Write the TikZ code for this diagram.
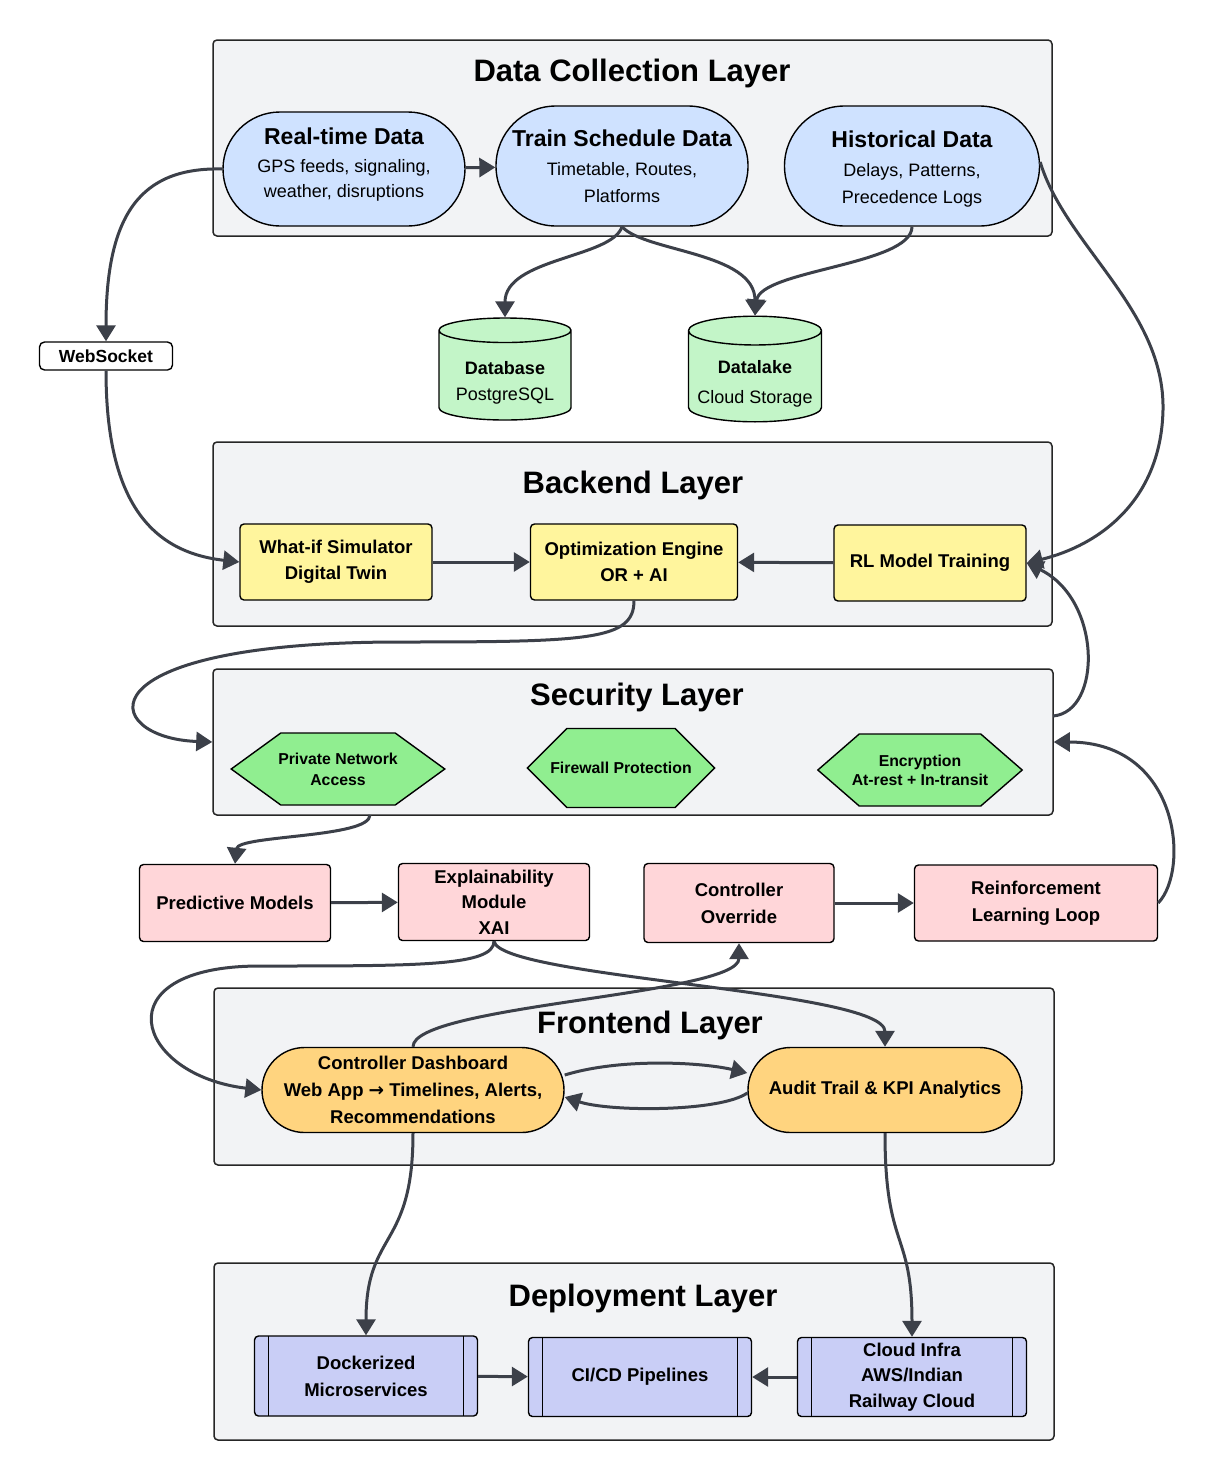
\documentclass[tikz,border=0pt]{standalone}
\usepackage{fontspec}
\setmainfont{Liberation Sans}
\newfontfamily\arrowfont{DejaVu Sans}
\usetikzlibrary{shapes.geometric,shapes.symbols,shapes.misc,arrows.meta}

\definecolor{layerfill}{HTML}{F2F3F5}
\definecolor{linec}{HTML}{3C4049}
\definecolor{srcfill}{HTML}{CFE2FF}
\definecolor{storefill}{HTML}{C3F5C8}
\definecolor{backfill}{HTML}{FFF59D}
\definecolor{secfill}{HTML}{90EE90}
\definecolor{mlfill}{HTML}{FFD6D9}
\definecolor{frontfill}{HTML}{FFD47F}
\definecolor{depfill}{HTML}{C9CEF6}

\begin{document}
\begin{tikzpicture}[x=1pt, y=-1pt,
    layer/.style={draw=black!85, fill=layerfill, line width=1.5pt, rounded corners=4pt, inner sep=0pt},
    ltitle/.style={font=\fontsize{31}{36}\selectfont\bfseries},
    src/.style={rounded rectangle, draw=black, fill=srcfill, line width=1.4pt, align=center, inner sep=0pt, font=\fontsize{18}{27}\selectfont},
    store/.style={cylinder, shape border rotate=90, aspect=0.25, anchor=shape center, draw=black, fill=storefill, line width=1.4pt, align=center, inner sep=0pt, font=\fontsize{18}{26}\selectfont},
    boxn/.style={rectangle, draw=black, line width=1.4pt, rounded corners=4pt, align=center, inner sep=0pt, font=\fontsize{18.5}{26}\selectfont\bfseries},
    hexn/.style={signal, signal to=west and east, draw=black, fill=secfill, line width=1.4pt, align=center, inner ysep=0pt, minimum width=0pt, font=\fontsize{15.8}{21}\selectfont\bfseries},
    front/.style={rounded rectangle, draw=black, fill=frontfill, line width=1.4pt, align=center, inner sep=0pt, font=\fontsize{18.5}{27}\selectfont\bfseries},
    deploy/.style={boxn, fill=depfill, path picture={
        \draw[line width=1.4pt] ([xshift=14pt]path picture bounding box.north west) -- ([xshift=14pt]path picture bounding box.south west);
        \draw[line width=1.4pt] ([xshift=-14pt]path picture bounding box.north east) -- ([xshift=-14pt]path picture bounding box.south east);}},
    conn/.style={draw=linec, line width=3pt, -{Triangle[length=16pt,width=19pt]}}
]
\fill[white] (0,0) rectangle (1217,1481);
\useasboundingbox (0,0) rectangle (1217,1481);

% layers
\node[layer, minimum width=839pt, minimum height=196pt] (dcl) at (632.5,138) {};
\node[layer, minimum width=839pt, minimum height=184pt] (bel) at (632.5,534) {};
\node[layer, minimum width=840pt, minimum height=146pt] (sec) at (633,742) {};
\node[layer, minimum width=840pt, minimum height=177pt] (fel) at (634,1076.5) {};
\node[layer, minimum width=840pt, minimum height=177pt] (dep) at (634,1351.5) {};

\node[ltitle] (dcltitle) at (632,73) {Data Collection Layer};
\node[ltitle] (beltitle) at (633,485) {Backend Layer};
\node[ltitle] (sectitle) at (637,697) {Security Layer};
\node[ltitle] (feltitle) at (650,1025) {Frontend Layer};
\node[ltitle] (deptitle) at (643,1298) {Deployment Layer};

% data collection
\node[src, minimum width=242pt, minimum height=114pt, font=\fontsize{18}{25}\selectfont] (rt) at (344,169) {{\fontsize{23}{28}\selectfont\bfseries Real-time Data}\\[3pt]GPS feeds, signaling,\\weather, disruptions\\[-12pt]\mbox{}};
\node[src, minimum width=252pt, minimum height=120pt] (tsd) at (622,166) {{\fontsize{23}{28}\selectfont\bfseries Train Schedule Data}\\[2pt]Timetable, Routes,\\Platforms};
\node[src, minimum width=255pt, minimum height=120pt] (hist) at (912,166) {\mbox{}\\[-4pt]{\fontsize{23}{28}\selectfont\bfseries Historical Data}\\[2pt]Delays, Patterns,\\Precedence Logs};

\node[store, minimum width=132pt, minimum height=102pt] (db) at (505,369) {\mbox{}\\[1pt]\textbf{Database}\\PostgreSQL};
\node[store, minimum width=133pt, minimum height=102pt] (dl) at (755,369) {\mbox{}\\[2pt]\textbf{Datalake}\\[4pt]Cloud Storage};

\node[boxn, fill=white, rounded corners=5pt, minimum width=133pt, minimum height=28pt, font=\fontsize{17.5}{22}\selectfont\bfseries] (ws) at (106,356) {WebSocket};

% backend
\node[boxn, fill=backfill, minimum width=192pt, minimum height=76pt] (sim) at (336,562) {What-if Simulator\\Digital Twin};
\node[boxn, fill=backfill, minimum width=207pt, minimum height=76pt] (opt) at (634,562) {Optimization Engine\\OR + AI};
\node[boxn, fill=backfill, minimum width=192pt, minimum height=76pt] (rl) at (930,563) {RL Model Training};

% security
\node[hexn, signal pointer angle=72, inner xsep=-2.5pt, minimum height=72pt] (pna) at (338,769) {Private Network\\Access};
\node[hexn, signal pointer angle=90, inner xsep=-16.5pt, minimum height=79pt] (fw) at (621,768) {Firewall Protection};
\node[hexn, signal pointer angle=82, inner xsep=-7.5pt, minimum height=72pt, font=\fontsize{15.8}{19}\selectfont\bfseries] (enc) at (920,770) {Encryption\\At-rest + In-transit};

% models
\node[boxn, fill=mlfill, minimum width=191pt, minimum height=77pt] (pm) at (235,903) {Predictive Models};
\node[boxn, fill=mlfill, minimum width=191pt, minimum height=77pt, font=\fontsize{18.5}{25.5}\selectfont\bfseries] (xai) at (494,902) {Explainability\\Module\\XAI};
\node[boxn, fill=mlfill, minimum width=190pt, minimum height=79pt, font=\fontsize{18.5}{27}\selectfont\bfseries] (co) at (739,903) {Controller\\Override};
\node[boxn, fill=mlfill, minimum width=243pt, minimum height=76pt, font=\fontsize{18.5}{27}\selectfont\bfseries] (rll) at (1036,903) {Reinforcement\\Learning Loop};

% frontend
\node[front, minimum width=302pt, minimum height=85pt] (cd) at (413,1090) {Controller Dashboard\\Web App {\arrowfont →} Timelines, Alerts,\\Recommendations};
\node[front, minimum width=274pt, minimum height=85pt] (af) at (885,1090) {Audit Trail \& KPI Analytics};

% deployment
\node[deploy, minimum width=223pt, minimum height=80pt, font=\fontsize{18.5}{27}\selectfont\bfseries] (dock) at (366,1376) {Dockerized\\Microservices};
\node[deploy, minimum width=223pt, minimum height=79pt] (cicd) at (640,1377) {CI/CD Pipelines};
\node[deploy, minimum width=229pt, minimum height=79pt, font=\fontsize{18.5}{25.5}\selectfont\bfseries] (ci) at (912,1377) {Cloud Infra\\AWS/Indian\\Railway Cloud};

\coordinate (secrl) at (1053,716);
\coordinate (secpm) at (370,815);

% connectors
\draw[conn] (rt) -- (tsd);
\draw[conn] (rt.west) .. controls (140,167) and (106,215) .. (ws.north);
\draw[conn] (ws.south) .. controls (106,500) and (150,552) .. (sim.west);
\draw[conn] (tsd.south) .. controls (612,258) and (505,258) .. (db.north);
\draw[conn] (tsd.south) .. controls (645,252) and (755,252) .. (dl.north);
\draw[conn] (hist.south) .. controls (912,265) and (760,270) .. (dl.north);
\draw[conn] ([yshift=4pt]hist.east) .. controls (1065,245) and (1165,310) .. (1163,410) .. controls (1161,500) and (1100,545) .. (rl.east);
\draw[conn] (sim) -- (opt);
\draw[conn] (rl) -- (opt);
\draw[conn] (opt.south) .. controls (634,640) and (590,642) .. (400,642) .. controls (75,642) and (100,738) .. (sec.west);
\draw[conn] (secrl) .. controls (1102,712) and (1102,600) .. (rl.east);
\draw[conn] (rll.east) .. controls (1190,870) and (1180,742) .. (sec.east);
\draw[conn] (secpm) .. controls (370,838) and (238,835) .. (pm.north);
\draw[conn] (pm) -- (xai);
\draw[conn] (co) -- (rll);
\draw[conn] (xai.south) .. controls (494,966) and (420,966) .. (260,966) .. controls (100,966) and (135,1075) .. (cd.west);
\draw[conn] (xai.south) .. controls (500,978) and (885,990) .. (af.north);
\draw[conn] (cd.north) .. controls (413,1005) and (739,995) .. (co.south);
\draw[conn] ([yshift=15pt]cd.east) .. controls (620,1058) and (700,1062) .. ([yshift=17pt]af.west);
\draw[conn] ([yshift=-3pt]af.west) .. controls (720,1112) and (610,1112) .. ([yshift=-7pt]cd.east);
\draw[conn] (cd.south) .. controls (413,1250) and (366,1230) .. (dock.north);
\draw[conn] (af.south) .. controls (885,1250) and (912,1230) .. (ci.north);
\draw[conn] (dock) -- (cicd);
\draw[conn] (ci) -- (cicd);
\end{tikzpicture}
\end{document}
